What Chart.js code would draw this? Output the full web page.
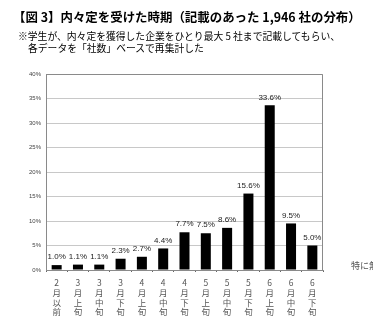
<!DOCTYPE html>
<html>
<head>
<meta charset="utf-8">
<script src="https://cdn.jsdelivr.net/npm/chart.js@4"></script>
<style>
  html, body { margin: 0; padding: 0; background: #fff; overflow: hidden; }
  #wrap { position: relative; width: 373px; height: 322px; }
  canvas { position: absolute; left: 0; top: 0; }
  .t { position: absolute; white-space: nowrap; font-family: "Noto Sans CJK JP", sans-serif; color: #000; }
  #title { left: 13px; top: 8px; font-size: 12.45px; font-weight: bold; }
  #sub1 { left: 18px; top: 29px; font-size: 9.8px; }
  #sub2 { left: 28px; top: 41px; font-size: 9.8px; }
  #other { left: 351px; top: 259px; font-size: 9px; color: #555; }
</style>
</head>
<body>
<div id="wrap">
  <canvas id="c" width="373" height="322"></canvas>
  <div class="t" id="title">【図 3】内々定を受けた時期（記載のあった 1,946 社の分布）</div>
  <div class="t" id="sub1">※学生が、内々定を獲得した企業をひとり最大 5 社まで記載してもらい、</div>
  <div class="t" id="sub2">各データを「社数」ベースで再集計した</div>
  <div class="t" id="other">特に無し</div>
</div>
<script>
// Periods (month + early/mid/late) shown as vertical stacked labels
const periods = [
  ["2","月","以","前"],
  ["3","月","上","旬"],
  ["3","月","中","旬"],
  ["3","月","下","旬"],
  ["4","月","上","旬"],
  ["4","月","中","旬"],
  ["4","月","下","旬"],
  ["5","月","上","旬"],
  ["5","月","中","旬"],
  ["5","月","下","旬"],
  ["6","月","上","旬"],
  ["6","月","中","旬"],
  ["6","月","下","旬"]
];
// Share of companies (%)
const shares = [1.0, 1.1, 1.1, 2.3, 2.7, 4.4, 7.7, 7.5, 8.6, 15.6, 33.6, 9.5, 5.0];
// Y axis ticks
const yTicks = [0, 5, 10, 15, 20, 25, 30, 35, 40];

const frame = {
  id: 'frame',
  afterDatasetsDraw(chart) {
    const { ctx, chartArea: a } = chart;
    ctx.save();
    ctx.strokeStyle = '#8a8a8a';
    ctx.lineWidth = 1;
    ctx.beginPath();
    ctx.moveTo(a.left + 0.5, a.top + 0.5);
    ctx.lineTo(a.right - 0.5, a.top + 0.5);
    ctx.lineTo(a.right - 0.5, a.bottom + 0.5);
    ctx.stroke();
    // value labels above bars
    const meta = chart.getDatasetMeta(0);
    ctx.fillStyle = '#222';
    ctx.font = '8px "Liberation Sans", Arial, sans-serif';
    ctx.textAlign = 'center';
    ctx.textBaseline = 'bottom';
    meta.data.forEach((bar, i) => {
      ctx.fillText(shares[i].toFixed(1) + '%', bar.x, bar.y - 4);
    });
    ctx.restore();
  }
};

new Chart(document.getElementById('c'), {
  type: 'bar',
  data: {
    labels: periods,
    datasets: [{
      data: shares,
      backgroundColor: '#000',
      borderWidth: 0,
      barPercentage: 0.47,
      categoryPercentage: 1.0
    }]
  },
  options: {
    responsive: false,
    animation: false,
    devicePixelRatio: 1,
    layout: { padding: { left: 0, right: 50, top: 74, bottom: 0 } },
    plugins: { legend: { display: false }, tooltip: { enabled: false } },
    scales: {
      x: {
        grid: { display: true, drawOnChartArea: false, drawTicks: true, tickLength: 2, color: '#666', offset: true },
        border: { color: '#8a8a8a' },
        ticks: {
          color: '#555',
          font: { family: '"Noto Sans CJK JP", sans-serif', size: 8.5, lineHeight: 1.15 },
          maxRotation: 0, autoSkip: false, padding: 6
        },
        afterFit(s) { s.height = 52; }
      },
      y: {
        min: 0, max: 40,
        afterBuildTicks(s) { s.ticks = yTicks.map(v => ({ value: v })); },
        grid: { color: '#c8c8c8', drawTicks: false },
        border: { color: '#8a8a8a' },
        ticks: {
          color: '#444',
          font: { family: '"Liberation Sans", Arial, sans-serif', size: 6 },
          padding: 5,
          callback: v => v + '%'
        },
        afterFit(s) { s.width = 46; }
      }
    }
  },
  plugins: [frame]
});
</script>
</body>
</html>
